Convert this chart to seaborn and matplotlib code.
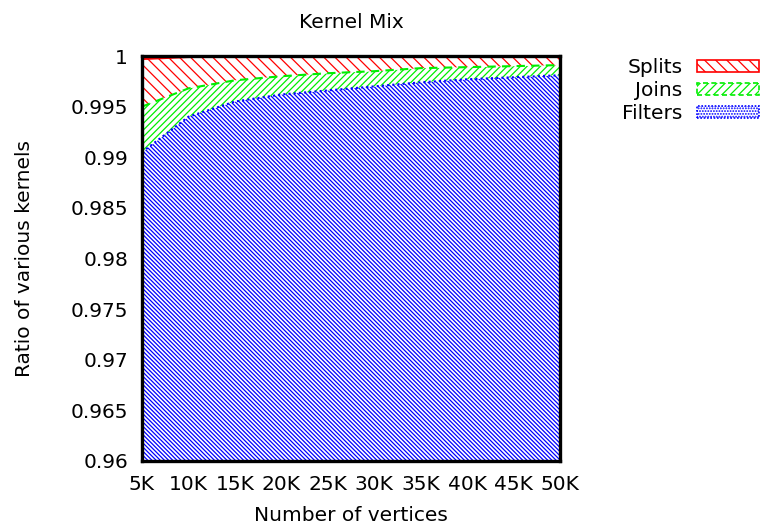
import numpy as np
import pandas as pd
import matplotlib
matplotlib.use("Agg")
import matplotlib.pyplot as plt
import seaborn as sns
from matplotlib.patches import Patch

# ---- data ----
vertices = [5, 10, 15, 20, 25, 30, 35, 40, 45, 50]  # thousands
tick_labels = ["5K", "10K", "15K", "20K", "25K", "30K", "35K", "40K", "45K", "50K"]
filters = [0.9905, 0.9940, 0.9955, 0.9962, 0.9966, 0.9970, 0.9974, 0.9977, 0.9979, 0.9981]
joins = [0.0045, 0.0028, 0.0021, 0.0018, 0.0017, 0.0015, 0.0014, 0.0012, 0.0011, 0.0010]
splits = [0.0047, 0.0031, 0.0024, 0.0020, 0.0017, 0.0015, 0.0012, 0.0011, 0.0010, 0.0009]
kernels = ["Filters", "Joins", "Splits"]
ytick_vals = [0.96, 0.965, 0.97, 0.975, 0.98, 0.985, 0.99, 0.995, 1.0]
ytick_labels = ["0.96", "0.965", "0.97", "0.975", "0.98", "0.985", "0.99", "0.995", "1"]

sns.set_theme(style="white")
plt.rcParams["font.family"] = ["DejaVu Sans"]
plt.rcParams["hatch.linewidth"] = 0.9
plt.rcParams["text.color"] = "black"
plt.rcParams["axes.labelcolor"] = "black"
plt.rcParams["axes.titlecolor"] = "black"
FS = 14.5

stack = np.cumsum(np.array([filters, joins, splits]), axis=0)
stack = np.minimum(stack, 1.0)
df = pd.DataFrame({
    "x": np.tile(vertices, 3),
    "y": stack.ravel(),
    "kernel": np.repeat(kernels, len(vertices)),
})

fig = plt.figure(figsize=(7.6, 5.29), dpi=100)
ax = fig.add_axes([142 / 760, 1 - 461 / 529, 418 / 760, 405 / 529])

colors = {"Filters": "#0000ff", "Joins": "#00ee00", "Splits": "#ff0000"}
hatches = {"Filters": "\\" * 8, "Joins": "/" * 5, "Splits": "\\" * 3}
styles = {"Filters": (0, (1, 1.5)), "Joins": (0, (4, 3)), "Splits": "-"}

ymin = ytick_vals[0]
lower = np.full(len(vertices), ymin)
for k, top in zip(kernels, stack):
    ax.fill_between(vertices, lower, top, facecolor="white",
                    edgecolor=colors[k], hatch=hatches[k], linewidth=0, zorder=1)
    lower = top

sns.lineplot(data=df, x="x", y="y", hue="kernel", palette=colors,
             ax=ax, legend=False, linewidth=1.5, zorder=2)
for line, k in zip(ax.get_lines(), kernels):
    line.set_linestyle(styles[k])

ax.set_xlim(vertices[0], vertices[-1])
ax.set_ylim(ytick_vals[0], ytick_vals[-1])
ax.set_xticks(vertices)
ax.set_xticklabels(tick_labels)
ax.set_yticks(ytick_vals)
ax.set_yticklabels(ytick_labels)
ax.tick_params(axis="both", length=0, labelsize=FS, pad=10, colors="black")
for s in ax.spines.values():
    s.set_linewidth(2.4)
    s.set_color("black")
    s.set_zorder(5)

ax.set_title("Kernel Mix", fontsize=FS, pad=20, color="black")
ax.set_xlabel("Number of vertices", fontsize=FS, color="black")
ax.set_ylabel("Ratio of various kernels", fontsize=FS, color="black")
ax.xaxis.set_label_coords(0.5, -0.11)
ax.yaxis.set_label_coords(-0.258, 0.5)

handles = [
    Patch(facecolor="white", edgecolor=colors["Splits"], hatch="\\" * 3, linestyle="-", linewidth=1.2),
    Patch(facecolor="white", edgecolor=colors["Joins"], hatch="/" * 4, linestyle=(0, (3, 2)), linewidth=1.2),
    Patch(facecolor="white", edgecolor=colors["Filters"], hatch="......", linestyle=(0, (1, 1)), linewidth=1.2),
]
leg = fig.legend(handles, ["Splits", "Joins", "Filters"], loc="upper right",
                 bbox_to_anchor=(0.999, 1 - 58 / 529), frameon=False, markerfirst=False,
                 fontsize=FS, handlelength=3.1, handleheight=0.55, handletextpad=0.7,
                 labelspacing=0.2, borderpad=0, borderaxespad=0)
for t in leg.get_texts():
    t.set_ha("right")
    t.set_color("black")

fig.savefig("out.png", dpi=100)
